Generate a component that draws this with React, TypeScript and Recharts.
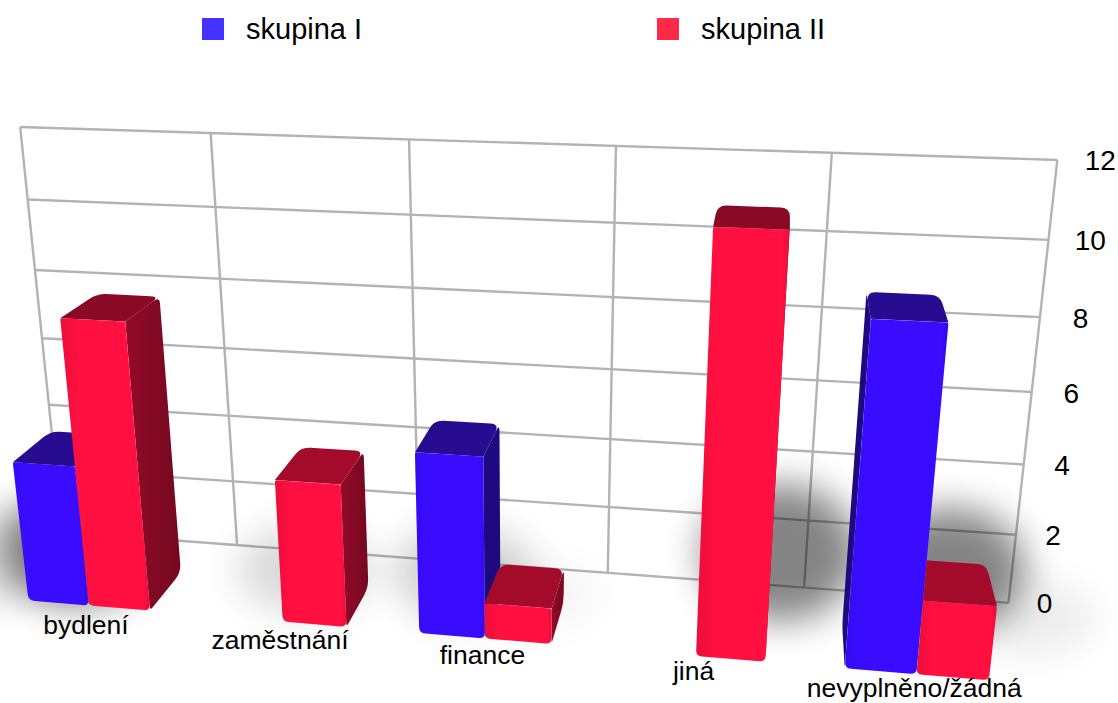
import React from 'react';
import { ComposedChart, Bar, XAxis, YAxis, CartesianGrid, Legend } from 'recharts';

const categories = ['bydlení', 'zaměstnání', 'finance', 'jiná', 'nevyplněno/žádná'];
const skupinaI = [4, 0, 5, 0, 9];
const skupinaII = [8, 4, 1, 11, 2];
const yTicks = [0, 2, 4, 6, 8, 10, 12];
const chartData = categories.map((name, i) => ({ name, a: skupinaI[i], b: skupinaII[i] }));

const WIDTH = 1118, HEIGHT = 703;
const LEFT = 40, TOP = 100, PW = 1000, PH = 480;
const FONT = '"Liberation Sans", Arial, sans-serif';
const BACK_Z = 0.464;

// perspective camera: vanishing points and weights of the 3D box
const ORIGIN = [62, 532];
const VX = [-9290, -168], WX = -0.0919;
const VY = [523, 5000], WY = -0.0831;
const VZ = [787, -147], WZ = -0.0883;

function project(X: number, Y: number, Z: number): [number, number] {
  const d = 1 + WX * X + WY * Y + WZ * Z;
  return [
    (ORIGIN[0] + WX * X * VX[0] + WY * Y * VY[0] + WZ * Z * VZ[0]) / d + Z * (3 - 5 * X),
    (ORIGIN[1] + WX * X * VX[1] + WY * Y * VY[1] + WZ * Z * VZ[1]) / d,
  ];
}
const toX = (px: number) => (px - LEFT) / PW;
const toY = (py: number) => (TOP + PH - py) / PH;

function roundPath(pts: [number, number][], radii: number[]) {
  const n = pts.length;
  let d = '';
  pts.forEach((p, i) => {
    const r = radii[i];
    const a = pts[(i + n - 1) % n], b = pts[(i + 1) % n];
    const la = Math.hypot(a[0] - p[0], a[1] - p[1]) || 1;
    const lb = Math.hypot(b[0] - p[0], b[1] - p[1]) || 1;
    const ra = Math.min(r, la / 2), rb = Math.min(r, lb / 2);
    const s = [p[0] + (a[0] - p[0]) * ra / la, p[1] + (a[1] - p[1]) * ra / la];
    const e = [p[0] + (b[0] - p[0]) * rb / lb, p[1] + (b[1] - p[1]) * rb / lb];
    d += `${i === 0 ? 'M' : 'L'}${s[0].toFixed(1)},${s[1].toFixed(1)}Q${p[0].toFixed(1)},${p[1].toFixed(1)} ${e[0].toFixed(1)},${e[1].toFixed(1)}`;
  });
  return d + 'Z';
}

function Bar3D(props: any) {
  const { x, y, width, height, index, tone } = props;
  if (!height || height <= 0) return <g />;
  const X0 = toX(x), X1 = toX(x + width), T = toY(y);
  const fbl = project(X0, 0, 1), fbr = project(X1, 0, 1), ftl = project(X0, T, 1), ftr = project(X1, T, 1);
  const bbl = project(X0, 0, BACK_Z), bbr = project(X1, 0, BACK_Z), btl = project(X0, T, BACK_Z), btr = project(X1, T, BACK_Z);
  const red = tone === 'red';
  const tall = T * 12 >= 5;
  const top = red ? (tall ? '#8a0a26' : '#a40a2a') : '#270c92';
  const side = red ? 'url(#sideRed)' : '#1e0a80';
  const clip = red && fbl[0] > VZ[0] && skupinaI[index] > 0;
  const clipId = `bar-clip-${index}`;
  const showRight = fbr[0] < VZ[0];
  const showLeft = fbl[0] > VZ[0];
  return (
    <g clipPath={clip ? `url(#${clipId})` : undefined}>
      {clip && (
        <clipPath id={clipId}>
          <polygon points={[project(X0, -0.2, 1), project(X0, 1.2, 1), [WIDTH, 0], [WIDTH, HEIGHT]].map((p) => p.join(',')).join(' ')} />
        </clipPath>
      )}
      {showRight && <path d={roundPath([ftr, btr, bbr, fbr], [0, 7, 9, 4])} fill={side} />}
      {showLeft && <path d={roundPath([ftl, btl, bbl, fbl], [0, 7, 9, 4])} fill={side} />}
      <path d={roundPath([ftl, ftr, btr, btl], [0, 0, 9, 9])} fill={top} />
      <path d={roundPath([ftl, ftr, fbr, fbl], [2, 2, 6, 6])} fill={red ? 'url(#frontRed)' : 'url(#frontBlue)'} />
    </g>
  );
}

function blob(Xc: number, v: number, key: string) {
  if (!(v > 0)) return null;
  const c = project(Xc, 0, 0.45);
  return (
    <ellipse
      key={key}
      cx={c[0] + (Xc - 0.5) * 200}
      cy={c[1] - v * (2 + 5 * Xc)}
      rx={62 + v * 1.5}
      ry={30 + v * 3.5}
      fill="#000"
      opacity={v >= 8 ? 0.48 : v * 0.035}
      filter="url(#softShadow)"
    />
  );
}

// soft floor shadows: drawn as the background of the first series, below every bar
const ShadowBackground = (props: any) => {
  const { x, width, index } = props;
  const X = toX(x + width / 2);
  const X2 = toX(x + (3 * width) / 2);
  return (
    <g key={`shadow-${index}`}>
      {blob(X, skupinaI[index], 'a')}
      {blob(X2, skupinaII[index], 'b')}
    </g>
  );
};

const XTick = (props: any) => {
  const { x, payload } = props;
  const X = toX(x);
  const p = project(X, 0, 1);
  return (
    <text x={p[0] - 3 + X} y={p[1] + 29 - 7 * X} textAnchor="middle" fontFamily={FONT} fontSize={26.5} fill="#000">
      {payload.value}
    </text>
  );
};

const YTick = (props: any) => {
  const { y, payload } = props;
  const T = toY(y);
  const p = project(1, T, 0);
  return (
    <text x={p[0] + 36 + T * 7} y={p[1] + 10.5} textAnchor="middle" fontFamily={FONT} fontSize={28} fill="#000">
      {payload.value}
    </text>
  );
};

const gridStroke = '#b3b3b3';
const HGrid = (props: any) => {
  const T = toY(props.y1);
  const a = project(0, T, 0), b = project(1, T, 0);
  return <line key={props.key} x1={a[0]} y1={a[1]} x2={b[0]} y2={b[1]} stroke={gridStroke} strokeWidth={2.4} />;
};
const VGrid = (props: any) => {
  const X = toX(props.x1);
  const a = project(X, 0, 0), b = project(X, 1, 0);
  return <line key={props.key} x1={a[0]} y1={a[1]} x2={b[0]} y2={b[1]} stroke={gridStroke} strokeWidth={2.4} />;
};

const verticalPoints = [...categories.map((_, i) => LEFT + (i * PW) / categories.length), LEFT + PW];

const LegendContent = (props: any) => (
  <div style={{ display: 'flex', fontFamily: FONT, fontSize: 29, color: '#000' }}>
    {props.payload.map((it: any) => (
      <div key={it.value} style={{ width: 455, display: 'flex', alignItems: 'center', height: 30 }}>
        <span style={{ width: 22, height: 22, background: it.color, display: 'inline-block', marginRight: 22 }} />
        <span>{it.value}</span>
      </div>
    ))}
  </div>
);

export default function App() {
  return (
    <div style={{ position: 'absolute', left: 0, top: 0, width: WIDTH, height: HEIGHT, background: '#fff' }}>
      <ComposedChart
        width={WIDTH}
        height={HEIGHT}
        data={chartData}
        margin={{ top: TOP, left: LEFT, right: WIDTH - LEFT - PW - 1, bottom: HEIGHT - TOP - PH - 1 }}
        barCategoryGap="18%"
        barGap={0}
      >
        <defs>
          <filter id="softShadow" filterUnits="userSpaceOnUse" x={-200} y={-200} width={1600} height={1200}>
            <feGaussianBlur stdDeviation={18} />
          </filter>
          <linearGradient id="frontRed" x1="0" y1="0" x2="1" y2="0">
            <stop offset="0" stopColor="#ea0e3a" />
            <stop offset="0.2" stopColor="#ff1040" />
            <stop offset="0.92" stopColor="#ff1040" />
            <stop offset="1" stopColor="#e60e38" />
          </linearGradient>
          <linearGradient id="frontBlue" x1="0" y1="0" x2="1" y2="0">
            <stop offset="0" stopColor="#340bf0" />
            <stop offset="0.15" stopColor="#3a0cff" />
            <stop offset="0.92" stopColor="#3a0cff" />
            <stop offset="1" stopColor="#320aea" />
          </linearGradient>
          <linearGradient id="sideRed" x1="0" y1="0" x2="1" y2="0">
            <stop offset="0" stopColor="#930a28" />
            <stop offset="1" stopColor="#740820" />
          </linearGradient>
        </defs>
        <CartesianGrid horizontal={HGrid} vertical={VGrid} verticalPoints={verticalPoints} />
        <XAxis dataKey="name" height={1} axisLine={false} tickLine={false} interval={0} tick={XTick} />
        <YAxis orientation="right" width={1} domain={[0, 12]} ticks={yTicks} interval={0} axisLine={false} tickLine={false} tick={YTick} />
        <Legend
          layout="horizontal"
          verticalAlign="middle"
          align="center"
          content={LegendContent}
          wrapperStyle={{ left: 202, top: 14, width: 910, height: 30 }}
        />
        <Bar dataKey="a" name="skupina I" fill="#4433ff" isAnimationActive={false} background={ShadowBackground} shape={(p: any) => <Bar3D {...p} tone="blue" />} />
        <Bar dataKey="b" name="skupina II" fill="#ff2a45" isAnimationActive={false} shape={(p: any) => <Bar3D {...p} tone="red" />} />
      </ComposedChart>
    </div>
  );
}
